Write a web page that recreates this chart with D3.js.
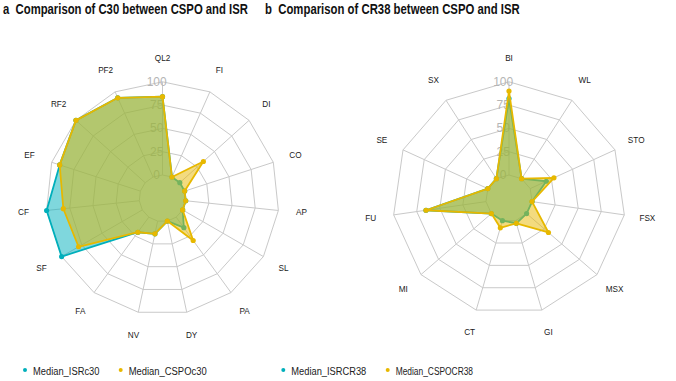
<!DOCTYPE html>
<html>
<head>
<meta charset="utf-8">
<script src="https://cdn.jsdelivr.net/npm/d3@7"></script>
<style>
  body { margin: 0; background: #fff; }
  svg { display: block; font-family: "Liberation Sans", Arial, sans-serif; }
</style>
</head>
<body>
<svg id="chart" width="676" height="381"></svg>
<script>
// C30 panel
const c30Axes = ["QL2", "FI", "DI", "CO", "AP", "SL", "PA", "DY", "NV", "FA", "SF", "CF", "EF", "RF2", "PF2"];
const isrC30 = [84, 0, 0, 0, 0, 0, 14, 0, 14, 20, 100, 100, 91, 100, 93];
const cspoC30 = [84, 0, 34, 0, 0, 0, 31, 0, 14, 20, 79, 82, 91, 100, 93];

// CR38 panel
const cr38Axes = ["BI", "WL", "STO", "FSX", "MSX", "GI", "CT", "MI", "FU", "SE", "SX"];
const isrCR38 = [82, 0, 19, 0, 0, 3, 0, 0, 65, 0, 0];
const cspoCR38 = [90, 0, 28, 0, 31, 3, 8, 0, 65, 0, 0];

const gridLevels = [0, 25, 50, 75, 100];

const colISR = "#00AFBB";
const colCSPO = "#E7B800";

const svg = d3.select("#chart");
const R = 116.5;

// narrow a text to a given width by squeezing it horizontally
function squeeze(sel, x, y, w) {
    const natural = sel.node().getComputedTextLength();
    const k = w / natural;
    sel.attr("transform", `translate(${x},${y}) scale(${k},1)`);
}

function radar(opts) {
    const n = opts.axes.length;
    const g = svg.append("g").attr("transform", `translate(${opts.cx},${opts.cy})`);

    const r = d3.scaleLinear().domain([0, 100]).range([R * 0.2, R]);
    const angle = d3.scaleLinear().domain([0, n]).range([0, 2 * Math.PI]);

    const ring = d3.lineRadial()
        .angle((d, i) => angle(i))
        .radius(d => r(d))
        .curve(d3.curveLinearClosed);

    // grid rings
    g.append("g").selectAll("path")
        .data(gridLevels)
        .join("path")
        .attr("d", v => ring(d3.range(n).map(() => v)))
        .attr("fill", "none")
        .attr("stroke", "#c9c9c9")
        .attr("stroke-width", 1);

    // spokes
    g.append("g").selectAll("line")
        .data(opts.axes)
        .join("line")
        .attr("x1", (d, i) => r(0) * Math.sin(angle(i)))
        .attr("y1", (d, i) => -r(0) * Math.cos(angle(i)))
        .attr("x2", (d, i) => r(100) * Math.sin(angle(i)))
        .attr("y2", (d, i) => -r(100) * Math.cos(angle(i)))
        .attr("stroke", "#c9c9c9")
        .attr("stroke-width", 1);

    // level labels
    g.append("g").selectAll("text")
        .data(gridLevels)
        .join("text")
        .attr("x", -R * 0.05)
        .attr("y", v => -r(v))
        .attr("text-anchor", "middle")
        .attr("dominant-baseline", "central")
        .attr("font-size", "12px")
        .attr("fill", "#b5b5b5")
        .text(v => v);

    // axis names
    g.append("g").selectAll("text")
        .data(opts.axes)
        .join("text")
        .attr("x", (d, i) => R * 1.2 * Math.sin(angle(i)))
        .attr("y", (d, i) => -R * 1.2 * Math.cos(angle(i)))
        .attr("text-anchor", "middle")
        .attr("dominant-baseline", "central")
        .attr("font-size", "8.2px")
        .attr("fill", "#1a1a1a")
        .text(d => d);

    // series: ISR first, CSPO on top
    opts.series.forEach(s => {
        const sg = g.append("g");
        sg.append("path")
            .attr("d", ring(s.values))
            .attr("fill", s.color)
            .attr("fill-opacity", 0.5)
            .attr("stroke", s.color)
            .attr("stroke-width", 1.8)
            .attr("stroke-linejoin", "round");
        sg.selectAll("circle")
            .data(s.values)
            .join("circle")
            .attr("cx", (d, i) => r(d) * Math.sin(angle(i)))
            .attr("cy", (d, i) => -r(d) * Math.cos(angle(i)))
            .attr("r", 2.6)
            .attr("fill", s.color);
    });

    // title
    const t = svg.append("text")
        .attr("font-size", "14px")
        .attr("font-weight", "bold")
        .attr("fill", "#111")
        .style("white-space", "pre")
        .text(opts.title);
    squeeze(t, opts.titleX, 13.5, opts.titleW);

    // legend
    const lg = svg.append("g");
    opts.series.forEach((s, i) => {
        const item = opts.legend[i];
        lg.append("circle")
            .attr("cx", item.x)
            .attr("cy", 370)
            .attr("r", 2)
            .attr("fill", s.color);
        const lt = lg.append("text")
            .attr("font-size", "11.5px")
            .attr("fill", "#222")
            .text(s.name);
        squeeze(lt, item.x + 8, 374.5, item.w);
    });
}

radar({
    cx: 162.5, cy: 198.3,
    axes: c30Axes,
    series: [
        { name: "Median_ISRc30", values: isrC30, color: colISR },
        { name: "Median_CSPOc30", values: cspoC30, color: colCSPO }
    ],
    title: "a  Comparison of C30 between CSPO and ISR",
    titleX: 3, titleW: 245,
    legend: [{ x: 25, w: 66.5 }, { x: 120.7, w: 78 }]
});

radar({
    cx: 509, cy: 198.3,
    axes: cr38Axes,
    series: [
        { name: "Median_ISRCR38", values: isrCR38, color: colISR },
        { name: "Median_CSPOCR38", values: cspoCR38, color: colCSPO }
    ],
    title: "b  Comparison of CR38 between CSPO and ISR",
    titleX: 265, titleW: 255,
    legend: [{ x: 283.3, w: 75 }, { x: 387.7, w: 77.5 }]
});
</script>
</body>
</html>
